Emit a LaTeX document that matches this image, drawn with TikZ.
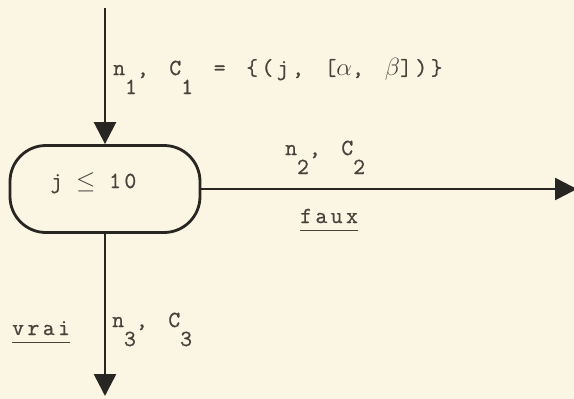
\documentclass[tikz,border=0pt]{standalone}
\usepackage{fontspec}
\setmonofont{Latin Modern Mono}[LetterSpace=15, WordSpace=1.35, FakeBold=0.8]
\usetikzlibrary{arrows.meta, positioning}

\definecolor{papier}{RGB}{251,246,228}
\definecolor{encre}{RGB}{40,38,34}
\definecolor{frappe}{RGB}{70,66,60}

\newcommand{\ind}[1]{\raisebox{-19pt}{#1}}
\newcommand{\signe}[1]{\makebox[15.6pt]{$#1$}}
\newcommand{\souligne}[1]{\setbox0\hbox{#1}\rlap{\rule[-8pt]{\wd0}{1.5pt}}\box0}

\begin{document}
\begin{tikzpicture}[
    x=1pt, y=-1pt,
    test/.style={rectangle, draw=encre, line width=2.8pt, rounded corners=36pt, minimum width=190pt, minimum height=87pt, inner sep=0pt, text width=109pt, align=left, text height=5pt, text depth=7pt, text=frappe, font=\ttfamily\fontsize{23}{27}\selectfont},
    lab/.style={anchor=base west, inner sep=0pt, text=frappe, font=\ttfamily\fontsize{23}{27}\selectfont},
    arr/.style={-{Triangle[length=22pt, width=22pt]}, line width=2.6pt, draw=encre}
]
\fill[papier] (0,0) rectangle (574,399);
\useasboundingbox (0,0) rectangle (574,399);

\node[test] (cond) at (105,189) {j\signe{}\signe{\leq}\signe{}10};
\coordinate (entree) at (105,8);
\coordinate (sortie) at (105,396);
\coordinate (droite) at (577,189);

\node[lab] (l1) at (113,75) {n\ind{1}, C\ind{1} = \{(j, [\signe{\alpha}, \signe{\beta}])\}};
\node[lab] (l2) at (285,155) {n\ind{2}, C\ind{2}};
\node[lab] (faux) at (300,223) {\souligne{faux}};
\node[lab] (l3) at (112,327) {n\ind{3}, C\ind{3}};
\node[lab] (vrai) at (12,335) {\souligne{vrai}};

\draw[arr] (entree) -- (cond);
\draw[arr] (cond) -- (droite);
\draw[arr] (cond) -- (sortie);

\end{tikzpicture}
\end{document}
